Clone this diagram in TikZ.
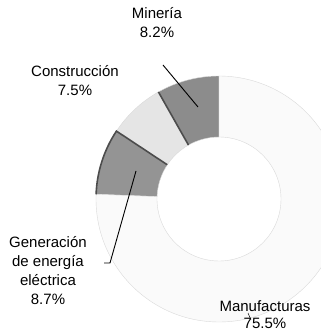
\documentclass[tikz,border=0pt]{standalone}
\usepackage{fontspec}
\setmainfont{Liberation Sans}
\usepackage{tikz}

\begin{document}
\begin{tikzpicture}[x=1pt, y=1pt,
    label/.style={align=center, font=\fontsize{15}{19}\selectfont},
    leader/.style={draw, line width=0.9pt},
    ring/.style={draw=black!15, line width=0.4pt}]
    \useasboundingbox (0,0) rectangle (321,333);
    \coordinate (c) at (219,134);

    % Sectors {start/end/shade}
    \foreach \a/\b/\s in {90/119.5/45, 119.5/146.5/10, 146.5/177.8/42, 177.8/450/2}
        \path [fill=black!\s, ring] ([shift={(\a:123)}]c) arc[start angle=\a, end angle=\b, radius=123]
            -- ([shift={(\b:62)}]c) arc[start angle=\b, end angle=\a, radius=62] -- cycle;

    % Dark edges
    \path [draw=black!70, line width=1.6pt] ([shift={(119.5:123)}]c) -- ([shift={(119.5:62)}]c);
    \path [draw=black!70, line width=1.6pt] ([shift={(146.5:62)}]c) -- ([shift={(146.5:123)}]c)
        arc[start angle=146.5, end angle=177.8, radius=123];

    % Nodes {min, con, gen, man}
    \node [label] (min) at (157,310) {Minería\\8.2\%};
    \node [label] (con) at (75,252)  {Construcción\\7.5\%};
    \node [label] (gen) at (48,62)   {Generación\\de energía\\eléctrica\\8.7\%};
    \node [label, font=\fontsize{15}{17}\selectfont] (man) at (265,18) {Manufacturas\\75.5\%};

    % Leaders
    \coordinate (minA) at (163,268);
    \coordinate (minB) at (198,226);
    \coordinate (genA) at (104,70);
    \coordinate (genB) at (110,70);
    \coordinate (genC) at (136,162);
    \coordinate (manA) at (248,20);
    \coordinate (manB) at (251,13);
    \path [leader] (minA) -- (minB);
    \path [leader] (genA) -- (genB) -- (genC);
    \path [leader, line width=0.5pt] (manA) -- (manB);
\end{tikzpicture}
\end{document}
